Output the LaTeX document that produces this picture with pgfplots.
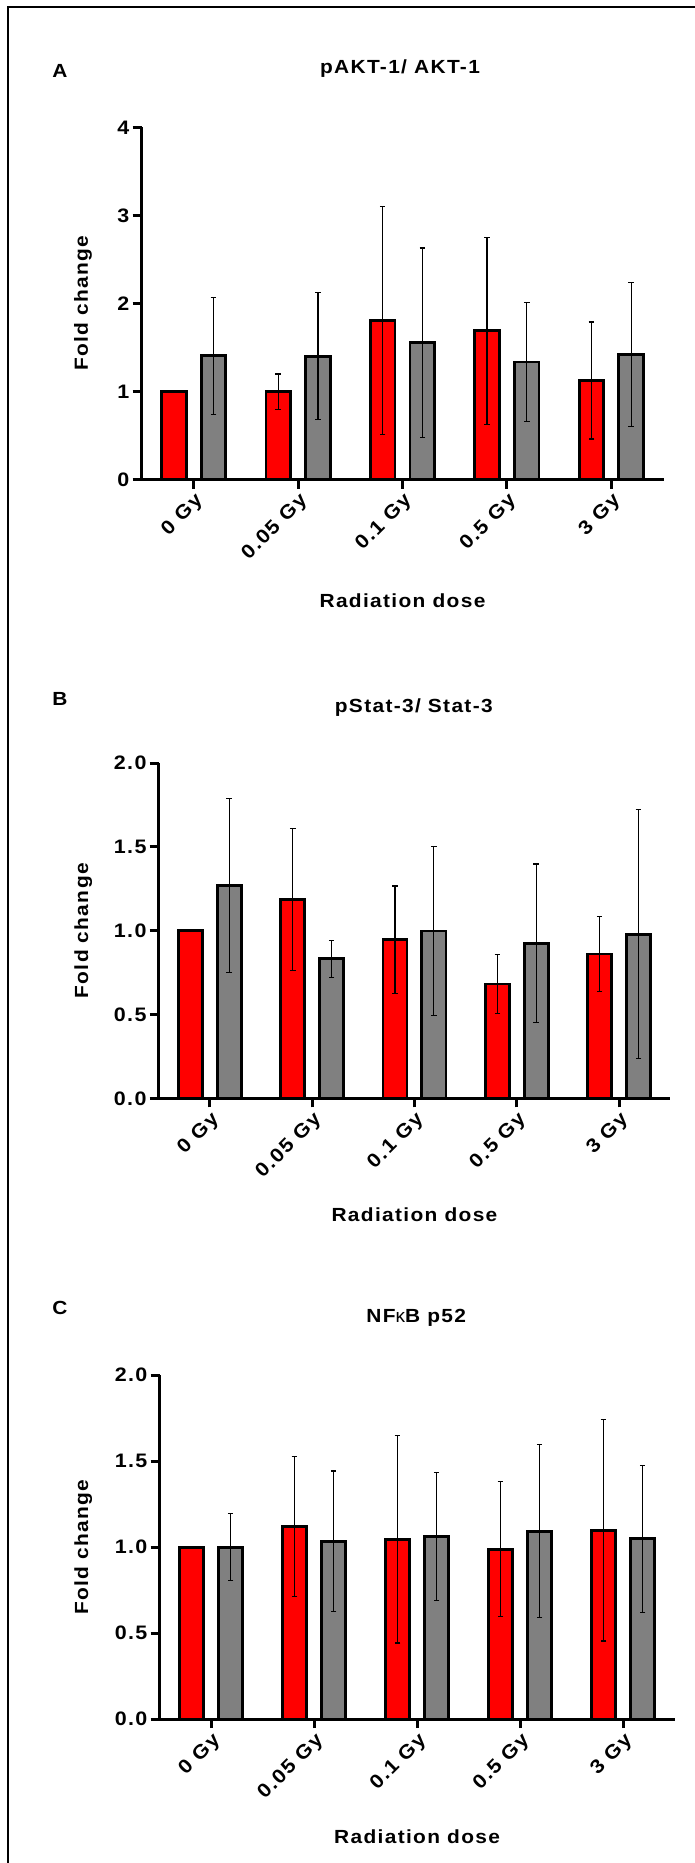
\documentclass[border=0pt]{standalone}
\usepackage{fontspec}
\setmainfont{Liberation Sans}[FakeStretch=1.1,LetterSpace=7]
\newfontfamily\greekfont{Liberation Sans}
\usepackage{pgfplots}
\usepackage{pgfplotstable}
\pgfplotsset{compat=1.18}
\definecolor{barred}{RGB}{255,0,0}
\definecolor{bargray}{RGB}{128,128,128}
\newcommand\tickfont{\fontsize{19.5}{21}\selectfont\bfseries}
\newcommand\labfont{\fontsize{19}{21}\selectfont\bfseries}

\pgfplotstableread{
x r re g ge
0 1.00 0 1.405 0.665
1 1.00 0.20 1.40 0.72
2 1.805 1.295 1.555 1.075
3 1.69 1.06 1.335 0.675
4 1.125 0.665 1.42 0.82
}\dataA
\pgfplotstableread{
x r re g ge
0 1.00 0 1.27 0.52
1 1.185 0.423 0.833 0.11
2 0.947 0.32 0.998 0.505
3 0.682 0.177 0.925 0.473
4 0.861 0.224 0.979 0.743
}\dataB
\pgfplotstableread{
x r re g ge
0 1.00 0 1.00 0.196
1 1.118 0.407 1.035 0.407
2 1.046 0.604 1.063 0.372
3 0.988 0.393 1.093 0.503
4 1.097 0.643 1.048 0.428
}\dataC

\pgfplotsset{
  panel/.style={
    scale only axis, anchor=south west,
    axis lines=left,
    axis line style={line width=3pt,-},
    xmin=-0.5,xmax=4.5,ymin=0,
    xtick={0,1,2,3,4},
    xticklabels={0 Gy,0.05 Gy,0.1 Gy,0.5 Gy,3 Gy},
    xticklabel style={font=\tickfont,rotate=45,anchor=north east,inner sep=2pt},
    yticklabel style={font=\tickfont,inner sep=3pt},
    /pgf/number format/assume math mode=true,
    tick align=outside,
    major tick length=9pt,
    every tick/.style={line width=3pt,black},
    xlabel={Radiation dose}, ylabel={Fold change},
    label style={font=\labfont},
    clip=false,
  },
  decy/.style={ymax=2,ytick={0,0.5,1,1.5,2},
    yticklabel style={/pgf/number format/.cd,fixed,fixed zerofill,precision=1}},
  barbase/.style={ybar,bar width=0.235,bar shift=0,draw=black,line width=2.8pt,
    error bars/y dir=both,error bars/y explicit,
    error bars/error bar style={line width=1.2pt,black},
    error bars/error mark options={rotate=90,mark size=2.8pt,line width=1.2pt,black}},
  redbar/.style={barbase,fill=barred},
  graybar/.style={barbase,fill=bargray},
}

\begin{document}
\begin{tikzpicture}
\path[use as bounding box] (0pt,0pt) rectangle (695pt,-1863pt);
\draw[line width=2.4pt] (8pt,-1863pt) -- (8pt,-7pt) -- (695pt,-7pt);

% Panel A
\node[font=\labfont] at (60pt,-71pt) {A};
\node[font=\labfont] at (400pt,-69pt) {pAKT-1/ AKT-1};
\begin{axis}[panel, at={(141.5pt,-479.6pt)}, width=522pt, height=352.3pt,
  ymax=4, ytick={0,1,2,3,4},
  xlabel style={at={(axis description cs:0.5,-0.3435)},anchor=center},
  ylabel style={at={(axis description cs:-0.1121,0.5)},anchor=center}]
\addplot[redbar] table[x expr=\thisrow{x}-0.19,y=r,y error=re] {\dataA};
\addplot[graybar] table[x expr=\thisrow{x}+0.19,y=g,y error=ge] {\dataA};
\end{axis}

% Panel B
\node[font=\labfont] at (60pt,-699pt) {B};
\node[font=\labfont] at (413.8pt,-707.8pt) {pStat-3/ Stat-3};
\begin{axis}[panel, decy, at={(158.7pt,-1098.4pt)}, width=511.5pt, height=335.3pt,
  xlabel style={at={(axis description cs:0.5,-0.348)},anchor=center},
  ylabel style={at={(axis description cs:-0.1474,0.5)},anchor=center}]
\addplot[redbar] table[x expr=\thisrow{x}-0.19,y=r,y error=re] {\dataB};
\addplot[graybar] table[x expr=\thisrow{x}+0.19,y=g,y error=ge] {\dataB};
\end{axis}

% Panel C
\node[font=\labfont] at (60pt,-1308.3pt) {C};
\node[font=\labfont] at (416.2pt,-1318.3pt) {NF{\greekfont\mdseries κ}B p52};
\begin{axis}[panel, decy, at={(159.6pt,-1719.1pt)}, width=515pt, height=344pt,
  xlabel style={at={(axis description cs:0.5,-0.342)},anchor=center},
  ylabel style={at={(axis description cs:-0.1482,0.5)},anchor=center}]
\addplot[redbar] table[x expr=\thisrow{x}-0.19,y=r,y error=re] {\dataC};
\addplot[graybar] table[x expr=\thisrow{x}+0.19,y=g,y error=ge] {\dataC};
\end{axis}
\end{tikzpicture}
\end{document}
